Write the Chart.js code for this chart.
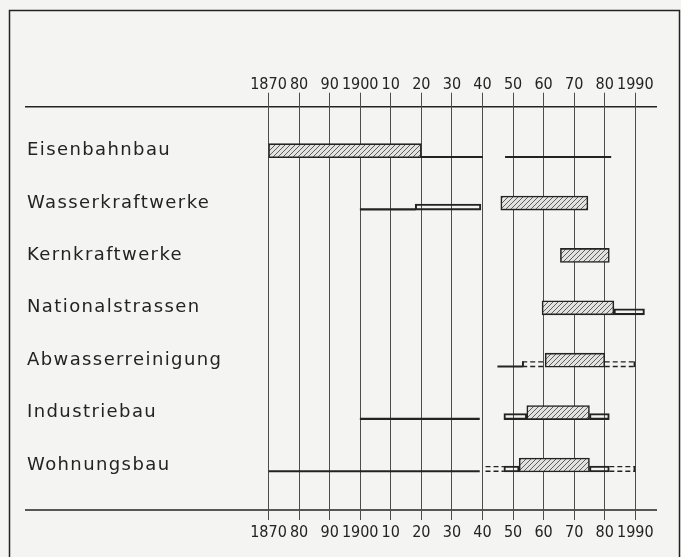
<!DOCTYPE html>
<html lang="de">
<head>
<meta charset="utf-8">
<title>Bautätigkeit 1870–1990</title>
<script src="https://cdn.jsdelivr.net/npm/chart.js@4.4.1/dist/chart.umd.min.js"></script>
<style>
  html, body { margin: 0; padding: 0; background: #f4f4f2; }
  #wrap { width: 681px; height: 557px; }
</style>
</head>
<body>
<div id="wrap"><canvas id="chart" width="681" height="557"></canvas></div>
<script>
const categories = ['Eisenbahnbau', 'Wasserkraftwerke', 'Kernkraftwerke', 'Nationalstrassen',
  'Abwasserreinigung', 'Industriebau', 'Wohnungsbau'];
const years = [1870, 1880, 1890, 1900, 1910, 1920, 1930, 1940, 1950, 1960, 1970, 1980, 1990];
const tickLabels = ['1870', '80', '90', '1900', '10', '20', '30', '40', '50', '60', '70', '80', '1990'];

// Hauptperiode (schraffierte Balken), eine pro Zeile
const mainFrom = [1870, 1946, 1965.5, 1959.5, 1960.5, 1954.5, 1952];
const mainTo   = [1920, 1974.5, 1981.5, 1983, 1980, 1975, 1975];

// dünne Linien
const thinSpans = [
  ['Eisenbahnbau', 1920, 1940],
  ['Eisenbahnbau', 1947.5, 1982],
  ['Wasserkraftwerke', 1900, 1918],
  ['Abwasserreinigung', 1945, 1953],
  ['Industriebau', 1900, 1939],
  ['Wohnungsbau', 1870, 1939]
];

// offene schmale Balken
const openSpans = [
  ['Wasserkraftwerke', 1918, 1939.5],
  ['Nationalstrassen', 1983, 1993],
  ['Industriebau', 1947, 1954.5],
  ['Industriebau', 1975, 1981.5],
  ['Wohnungsbau', 1947, 1952],
  ['Wohnungsbau', 1975, 1981.5]
];

// gestrichelte schmale Balken, mit Abschluss links/rechts
const dashedSpans = [
  ['Abwasserreinigung', 1953, 1960.5, 'left'],
  ['Abwasserreinigung', 1980, 1990, 'right'],
  ['Wohnungsbau', 1941, 1947, ''],
  ['Wohnungsbau', 1981.5, 1990, 'right']
];

const INK = '#232323';
const GRID = '#4d4d4d';
const BAR_H = 14;
const OPEN_H = 6;
const LINE_W = 1.4;
const LABEL_FONT = 'DejaVu Sans';
const TICK_FONT = '"Liberation Sans Narrow", "DejaVu Sans Condensed", "Liberation Sans", sans-serif';

function hatchPattern() {
  const s = 5;
  const c = document.createElement('canvas');
  c.width = s; c.height = s;
  const g = c.getContext('2d');
  g.fillStyle = '#e2e2e0';
  g.fillRect(0, 0, s, s);
  g.strokeStyle = '#5e5e5e';
  g.lineWidth = 1;
  g.beginPath();
  g.moveTo(0, s); g.lineTo(s, 0);
  g.moveTo(-1, 1); g.lineTo(1, -1);
  g.moveTo(s - 1, s + 1); g.lineTo(s + 1, s - 1);
  g.stroke();
  return g.createPattern(c, 'repeat');
}

const rowOf = name => categories.indexOf(name);
const spanData = list => list.map(s => ({ y: rowOf(s[0]), x: [s[1], s[2]] }));

const datasets = [
  {
    type: 'bar', indexAxis: 'y', label: 'Hauptperiode',
    data: categories.map((c, i) => ({ y: i, x: [mainFrom[i], mainTo[i]] })),
    backgroundColor: hatchPattern(), borderColor: INK, borderWidth: 1.6,
    borderSkipped: false, barThickness: BAR_H, grouped: false, shiftY: 0
  },
  {
    type: 'bar', indexAxis: 'y', label: 'offen',
    data: spanData(openSpans),
    backgroundColor: 'rgba(0,0,0,0)', borderColor: INK, borderWidth: 1.4,
    borderSkipped: false, barThickness: OPEN_H, grouped: false, clip: false,
    shiftY: BAR_H / 2 - OPEN_H / 2
  },
  {
    type: 'bar', indexAxis: 'y', label: 'Linie',
    data: spanData(thinSpans),
    backgroundColor: INK, borderWidth: 0,
    barThickness: LINE_W, grouped: false, shiftY: BAR_H / 2 - LINE_W / 2
  },
  {
    type: 'bar', indexAxis: 'y', label: 'Abschluss',
    data: spanData(dashedSpans),
    backgroundColor: 'rgba(0,0,0,0)', borderColor: INK,
    borderWidth: ctx => {
      const cap = dashedSpans[ctx.dataIndex] ? dashedSpans[ctx.dataIndex][3] : '';
      return { top: 0, bottom: 0, left: cap === 'left' ? 1.4 : 0, right: cap === 'right' ? 1.4 : 0 };
    },
    borderSkipped: false, barThickness: OPEN_H, grouped: false,
    shiftY: BAR_H / 2 - OPEN_H / 2
  }
];

// gestrichelte Ober- und Unterkante
dashedSpans.forEach(s => {
  [BAR_H / 2 - OPEN_H + 0.7, BAR_H / 2 - 0.7].forEach(shift => {
    datasets.push({
      type: 'line', label: 'gestrichelt',
      data: [{ x: s[1], y: rowOf(s[0]) }, { x: s[2], y: rowOf(s[0]) }],
      borderColor: INK, borderWidth: 1.4, borderDash: [5, 3],
      pointRadius: 0, fill: false, tension: 0, clip: false, shiftY: shift
    });
  });
});

const decor = {
  id: 'decor',
  beforeDraw(chart) {
    const { ctx, chartArea } = chart;
    ctx.save();
    ctx.fillStyle = '#f4f4f2';
    ctx.fillRect(0, 0, chart.width, chart.height);
    ctx.strokeStyle = INK;
    ctx.lineWidth = 1.5;
    ctx.beginPath();
    ctx.moveTo(9.5, chart.height); ctx.lineTo(9.5, 10.5);
    ctx.lineTo(679.5, 10.5); ctx.lineTo(679.5, chart.height);
    ctx.moveTo(25, chartArea.top); ctx.lineTo(657, chartArea.top);
    ctx.moveTo(25, chartArea.bottom); ctx.lineTo(657, chartArea.bottom);
    ctx.stroke();
    ctx.restore();
  },
  beforeDatasetDraw(chart, args) {
    const ds = chart.data.datasets[args.index];
    chart.ctx.save();
    chart.ctx.translate(0, ds.shiftY || 0);
  },
  afterDatasetDraw(chart) {
    chart.ctx.restore();
  },
  // category labels are drawn after the datasets (ticks.z = 1), spaced out a bit
  afterDatasetsDraw(chart) {
    chart.ctx.letterSpacing = '1.4px';
  },
  afterDraw(chart) {
    chart.ctx.letterSpacing = '0px';
  }
};

const xTicks = (padding) => ({
  callback: (v, i) => tickLabels[i],
  font: { family: TICK_FONT, size: 16, lineHeight: 1 },
  color: INK, padding: padding, maxRotation: 0, autoSkip: false
});

new Chart(document.getElementById('chart'), {
  type: 'bar',
  data: { datasets },
  plugins: [decor],
  options: {
    responsive: false,
    animation: false,
    events: [],
    layout: { padding: { left: 27, right: 45.7, top: 0, bottom: 0 } },
    plugins: { legend: { display: false }, tooltip: { enabled: false } },
    scales: {
      x: {
        type: 'linear', position: 'top', min: 1870, max: 1990, offset: false,
        afterBuildTicks: s => { s.ticks = years.map(v => ({ value: v })); },
        ticks: xTicks(0),
        grid: { color: GRID, lineWidth: 1, tickLength: 14, offset: false },
        border: { display: false },
        afterFit: s => { s.height = 106.7; }
      },
      x2: {
        type: 'linear', axis: 'x', position: 'bottom', min: 1870, max: 1990, offset: false,
        afterBuildTicks: s => { s.ticks = years.map(v => ({ value: v })); },
        ticks: xTicks(5),
        grid: { color: GRID, lineWidth: 1, tickLength: 10, drawOnChartArea: false, offset: false },
        border: { display: false },
        afterFit: s => { s.height = 47; }
      },
      y: {
        type: 'linear', min: -0.84, max: 6.86, reverse: true, offset: false, beginAtZero: false,
        afterBuildTicks: s => { s.ticks = categories.map((c, i) => ({ value: i })); },
        ticks: {
          callback: v => categories[v], crossAlign: 'far', autoSkip: false, padding: 0, z: 1,
          font: { family: LABEL_FONT, size: 18 }, color: INK
        },
        grid: { display: false, offset: false },
        border: { display: false },
        afterFit: s => { s.width = 268.5 - 27; }
      }
    }
  }
});
</script>
</body>
</html>
